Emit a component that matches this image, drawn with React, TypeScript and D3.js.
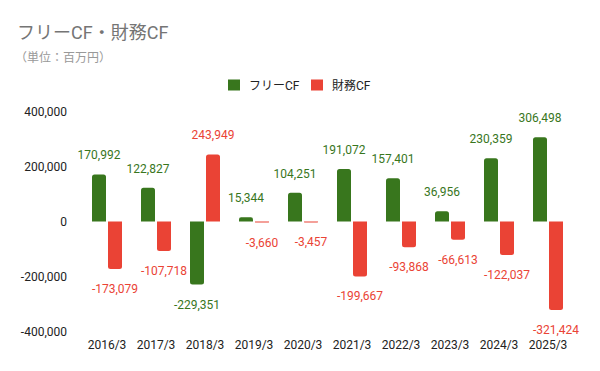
import * as d3 from "d3";
import { useRef, useEffect } from "react";

const categories = ["2016/3", "2017/3", "2018/3", "2019/3", "2020/3", "2021/3", "2022/3", "2023/3", "2024/3", "2025/3"];
const freeCF = [170992, 122827, -229351, 15344, 104251, 191072, 157401, 36956, 230359, 306498];
const financeCF = [-173079, -107718, 243949, -3660, -3457, -199667, -93868, -66613, -122037, -321424];
const seriesNames = ["フリーCF", "財務CF"];
const yTicks = [-400000, -200000, 0, 200000, 400000];

const colors = ["#38761d", "#ea4335"];
const font = "Roboto, 'Noto Sans CJK JP', sans-serif";

// bar with rounded corners on the end away from zero
function barPath(x: number, w: number, y0: number, y1: number, r: number) {
    const h = Math.abs(y1 - y0);
    const rr = Math.min(r, h / 2, w / 2);
    if (y1 < y0) {
        return `M${x},${y0}V${y1 + rr}Q${x},${y1} ${x + rr},${y1}H${x + w - rr}Q${x + w},${y1} ${x + w},${y1 + rr}V${y0}Z`;
    }
    return `M${x},${y0}V${y1 - rr}Q${x},${y1} ${x + rr},${y1}H${x + w - rr}Q${x + w},${y1} ${x + w},${y1 - rr}V${y0}Z`;
}

export default function App() {
    const ref = useRef(null);
    const width = 600, height = 371;

    useEffect(() => {
        const svg = d3.select(ref.current);
        svg.selectAll("*").remove();

        const x0 = d3.scaleBand().domain(categories).range([82.5, 572.5])
            .paddingInner(19 / 49).paddingOuter(19 / 98);
        const x1 = d3.scaleBand().domain(seriesNames).range([0, x0.bandwidth()]).paddingInner(0.125);
        const y = d3.scaleLinear().domain([-400000, 400000]).range([331.5, 111.5]);
        const fmt = (v: number) => d3.format(",")(v).replace("−", "-");

        // title
        svg.append("text").attr("x", 17).attr("y", 38.5)
            .style("font-family", font).style("font-size", "18px").attr("fill", "#757575")
            .text("フリーCF・財務CF");
        svg.append("text").attr("x", 15).attr("y", 62)
            .style("font-family", font).style("font-size", "12px").attr("fill", "#999999")
            .text("（単位：百万円）");

        // legend
        const legendX = [228, 311];
        seriesNames.forEach((name, i) => {
            svg.append("rect").attr("x", legendX[i]).attr("y", 79.5).attr("width", 12).attr("height", 11)
                .attr("fill", colors[i]);
            svg.append("text").attr("x", legendX[i] + 21).attr("y", 89.5)
                .style("font-family", font).style("font-size", "12px").attr("fill", "#222")
                .text(name);
        });

        // y axis labels
        svg.append("g").selectAll("text").data(yTicks).join("text")
            .attr("x", 67).attr("y", (d) => y(d)).attr("dy", "0.35em")
            .attr("text-anchor", "end")
            .style("font-family", font).style("font-size", "12px").attr("fill", "#222")
            .text((d) => fmt(d));

        // x axis labels
        svg.append("g").selectAll("text").data(categories).join("text")
            .attr("x", (d) => x0(d) + x0.bandwidth() / 2).attr("y", 349)
            .attr("text-anchor", "middle")
            .style("font-family", font).style("font-size", "12px").attr("fill", "#222")
            .text((d) => d);

        const series = [freeCF, financeCF];
        series.forEach((vals, si) => {
            const g = svg.append("g");
            const bx = (i: number) => x0(categories[i]) + x1(seriesNames[si]);
            g.selectAll("path").data(vals).join("path")
                .attr("d", (d, i) => barPath(bx(i), x1.bandwidth(), y(0), y(d), 2.5))
                .attr("fill", colors[si]);
            g.selectAll("text").data(vals).join("text")
                .attr("x", (d, i) => bx(i) + x1.bandwidth() / 2)
                .attr("y", (d) => d >= 0 ? y(d) - 15 : y(d) + 24)
                .attr("text-anchor", "middle")
                .style("font-family", font).style("font-size", "12px").attr("fill", colors[si])
                .text((d) => fmt(d));
        });
    }, []);

    return (
        <svg ref={ref} width={width} height={height}
            style={{ position: "absolute", left: 0, top: 0, background: "#fff" }}>
        </svg>
    );
}
